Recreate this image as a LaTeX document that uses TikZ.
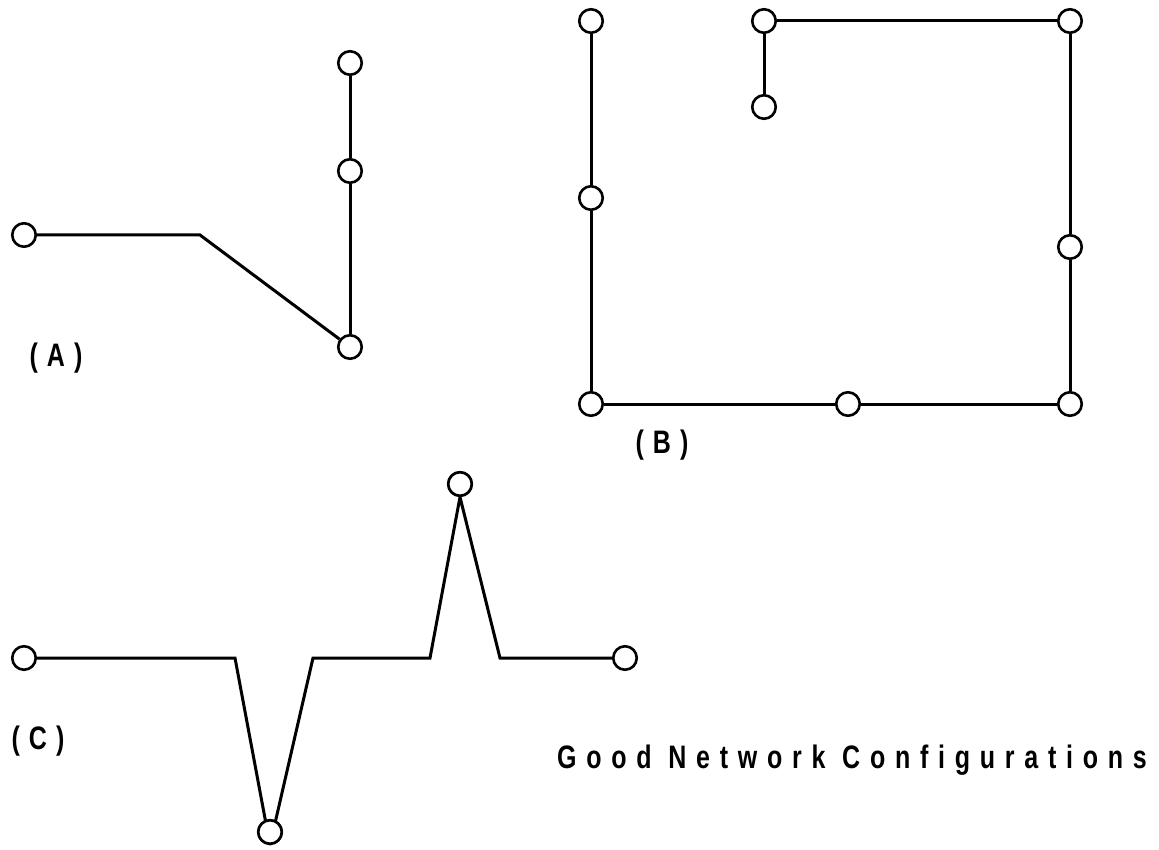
\documentclass[tikz,border=0pt]{standalone}
\usepackage{fontspec}
\setmainfont{Liberation Sans}
\newfontfamily\spaced[LetterSpace=36]{Liberation Sans Bold}
\newfontfamily\titlespaced[LetterSpace=39]{Liberation Sans Bold}
\newcommand{\tall}[1]{\scalebox{1}[1.3]{#1}}
\begin{document}
\begin{tikzpicture}[x=1pt,y=-1pt,
  dot/.style={circle,draw,line width=2.6pt,minimum size=23.5pt,inner sep=0pt,fill=white},
  wire/.style={line width=3pt,line join=miter},
  lbl/.style={font=\spaced\fontsize{25}{25}\selectfont,inner sep=0pt},
  ttl/.style={font=\titlespaced\fontsize{25}{25}\selectfont,inner sep=0pt}]
\useasboundingbox (0,0) rectangle (1159,850);
% (A)
\node[dot] (a1) at (24,235) {};
\node[dot] (a2) at (350,63) {};
\node[dot] (a3) at (350,171) {};
\node[dot] (a4) at (350,347) {};
\coordinate (ak) at (200,235);
\draw[wire] (a1) -- (ak) -- (a4);
\draw[wire] (a2) -- (a3);
\draw[wire] (a3) -- (a4);
\node[lbl] (la) at (56,358) {\tall{(A)}};
% (B)
\node[dot] (b1) at (591,21) {};
\node[dot] (b2) at (591,198) {};
\node[dot] (b3) at (591,404) {};
\node[dot] (b4) at (848,404) {};
\node[dot] (b5) at (1070,404) {};
\node[dot] (b6) at (1070,247) {};
\node[dot] (b7) at (1070,21) {};
\node[dot] (b8) at (764,21) {};
\node[dot] (b9) at (764,107) {};
\draw[wire] (b1) -- (b2);
\draw[wire] (b2) -- (b3);
\draw[wire] (b3) -- (b4);
\draw[wire] (b4) -- (b5);
\draw[wire] (b5) -- (b6);
\draw[wire] (b6) -- (b7);
\draw[wire] (b7) -- (b8);
\draw[wire] (b8) -- (b9);
\node[lbl] (lb) at (662,445) {\tall{(B)}};
% (C)
\node[dot] (c1) at (24,658) {};
\node[dot] (c2) at (270,832) {};
\node[dot] (c3) at (460,484) {};
\node[dot] (c4) at (625,658) {};
\coordinate (k1) at (235,658);
\coordinate (k2) at (313,658);
\coordinate (k3) at (430,658);
\coordinate (k4) at (500,658);
\draw[wire] (c1) -- (k1) -- (c2.south) ;
\draw[wire] (c2.south) -- (k2) -- (k3) -- (c3.south) -- (k4) -- (c4);
\node[dot] at (c2) {};
\node[dot] at (c3) {};
\node[lbl] (lc) at (38,741) {\tall{(C)}};
\node[ttl,anchor=west] (title) at (557,760) {\tall{Good Network Configurations}};
\end{tikzpicture}
\end{document}
